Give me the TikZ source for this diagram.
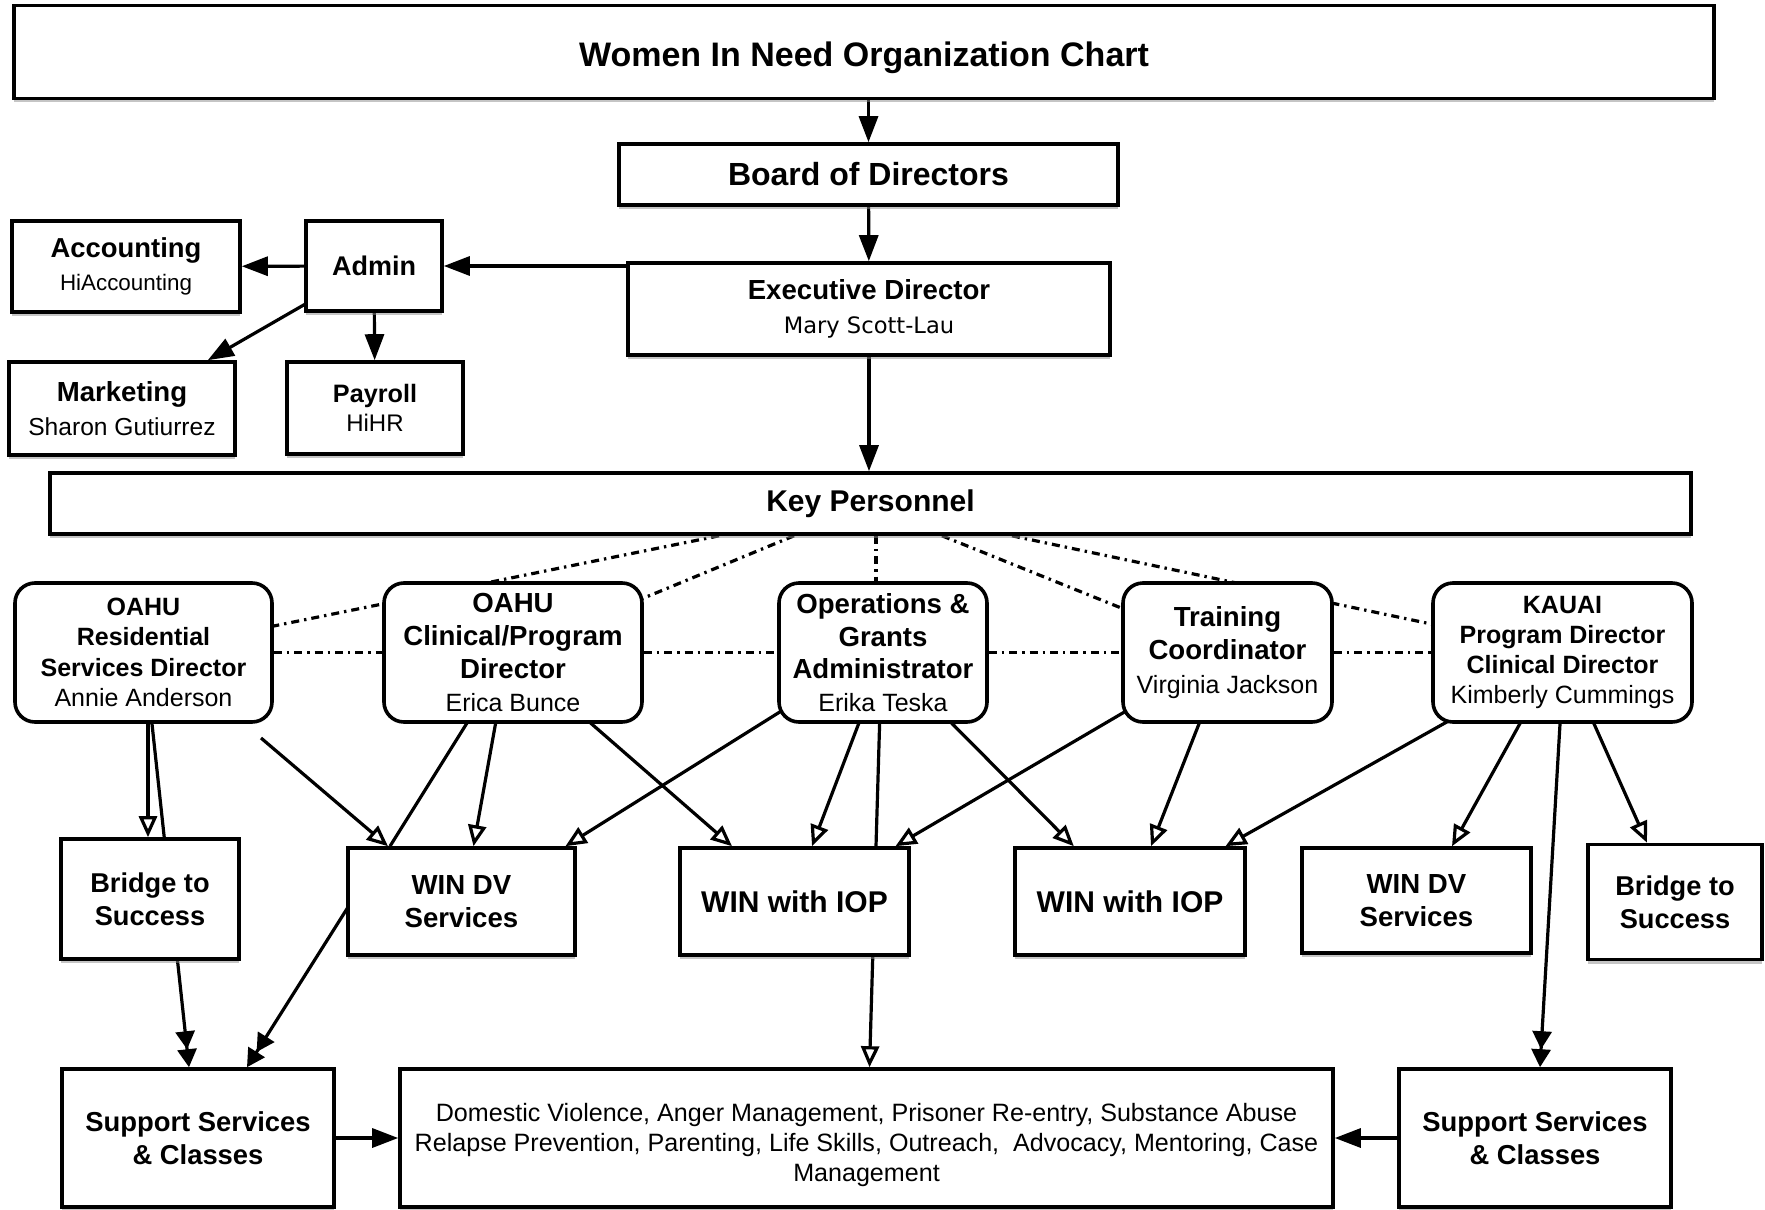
\documentclass[tikz,border=0pt]{standalone}
\usepackage{fontspec}
\setmainfont{Liberation Sans}
\newfontfamily\dejavu{DejaVu Sans}
\usetikzlibrary{arrows.meta,calc,shadows}
\pgfdeclarelayer{back}
\pgfsetlayers{back,main}

\begin{document}
\begin{tikzpicture}[x=0.5pt,y=-0.5pt]
	\tikzset{box/.style={draw,line width=1.8pt,fill=white,inner sep=0pt,align=center,
			drop shadow={shadow xshift=0pt,shadow yshift=-2pt,fill=black!45}}, %boxes
		rbox/.style={draw,line width=1.8pt,fill=white,inner sep=0pt,align=center,rounded corners=10pt},
		conn/.style={line width=1.6pt,shorten <=-3pt},
		arr/.style={conn,-{Triangle[length=13pt,width=9.5pt]}},
		oarr/.style={conn,-{Triangle[open,length=10.5pt,width=9pt]}},
		darr/.style={conn,-{Triangle[length=9pt,width=9.5pt]Triangle[length=9pt,width=9.5pt]}},
		dotline/.style={line width=1.6pt,dash pattern=on 4pt off 2.5pt on 1.2pt off 2.5pt,shorten >=-4pt}}
	\useasboundingbox (0,0) rectangle (1765,1209);
	% top of the chart
	\node[box,minimum width=850pt,minimum height=46.5pt,font=\fontsize{17}{20}\selectfont\bfseries] (title) at (864,52) {\rule{0pt}{18pt}Women In Need Organization Chart};
	\node[box,minimum width=249.5pt,minimum height=30.5pt,font=\fontsize{16}{19}\selectfont\bfseries] (board) at (868.5,174.5) {Board of Directors};
	\node[box,minimum width=241pt,minimum height=46pt,font=\fontsize{13.8}{17}\selectfont\bfseries] (exec) at (869,309) {Executive Director\\\dejavu\mdseries\fontsize{11.3}{17}\selectfont Mary Scott-Lau};
	\node[box,minimum width=68pt,minimum height=45pt,font=\fontsize{13.5}{16}\selectfont\bfseries] (admin) at (374,266) {Admin};
	\node[box,minimum width=114pt,minimum height=45.5pt,font=\fontsize{13.7}{16.3}\selectfont\bfseries] (acct) at (126,266.5) {Accounting\\\mdseries\fontsize{11.2}{16.3}\selectfont HiAccounting};
	\node[box,minimum width=113pt,minimum height=46.5pt,font=\fontsize{13.8}{16.9}\selectfont\bfseries] (mkt) at (122,408.5) {Marketing\\\mdseries\fontsize{12.3}{16.9}\selectfont Sharon Gutiurrez};
	\node[box,minimum width=88pt,minimum height=46pt,font=\fontsize{12.6}{14.6}\selectfont\bfseries] (payroll) at (375,408) {Payroll\\\mdseries\fontsize{12}{14.6}\selectfont HiHR};
	\node[box,minimum width=820.5pt,minimum height=30.5pt,font=\fontsize{15}{18}\selectfont\bfseries] (keyp) at (870.5,503.5) {Key Personnel};
	% key personnel
	\node[rbox,minimum width=128.5pt,minimum height=69.5pt,font=\fontsize{12.5}{15.2}\selectfont\bfseries] (res) at (143.5,652.5) {OAHU\\Residential\\Services Director\\\mdseries Annie Anderson};
	\node[rbox,minimum width=129pt,minimum height=69.5pt,font=\fontsize{13.8}{16.5}\selectfont\bfseries] (clin) at (513,652.5) {OAHU\\Clinical/Program\\Director\\\mdseries\fontsize{12.5}{16.5}\selectfont Erica Bunce};
	\node[rbox,minimum width=104pt,minimum height=69.5pt,font=\fontsize{13.8}{16.3}\selectfont\bfseries] (ops) at (883,652.5) {Operations \&\\Grants\\Administrator\\\mdseries\fontsize{12.5}{16.3}\selectfont Erika Teska};
	\node[rbox,minimum width=104.5pt,minimum height=69.5pt,font=\fontsize{13.8}{16.9}\selectfont\bfseries] (train) at (1227.5,652.5) {Training\\Coordinator\\\mdseries\fontsize{12.5}{16.9}\selectfont Virginia Jackson};
	\node[rbox,minimum width=129.5pt,minimum height=69.5pt,font=\fontsize{12.5}{15}\selectfont\bfseries] (kauai) at (1562.5,652.5) {KAUAI\\Program Director\\Clinical Director\\\mdseries Kimberly Cummings};
	% programs
	\node[box,minimum width=89pt,minimum height=60pt,font=\fontsize{13.6}{16.3}\selectfont\bfseries] (bridgeL) at (150,899) {Bridge to\\Success};
	\node[box,minimum width=113.5pt,minimum height=53.5pt,font=\fontsize{13.8}{16.3}\selectfont\bfseries] (windvL) at (461.5,901.5) {WIN DV\\Services};
	\node[box,minimum width=114.5pt,minimum height=53.5pt,font=\fontsize{15}{18}\selectfont\bfseries] (iop1) at (794.5,901.5) {WIN with IOP};
	\node[box,minimum width=115pt,minimum height=53.5pt,font=\fontsize{15}{18}\selectfont\bfseries] (iop2) at (1130,901.5) {WIN with IOP};
	\node[box,minimum width=114.5pt,minimum height=52.5pt,font=\fontsize{13.8}{16.3}\selectfont\bfseries] (windvR) at (1416.5,900.5) {WIN DV\\Services};
	\node[box,minimum width=87pt,minimum height=57.5pt,font=\fontsize{13.6}{16.3}\selectfont\bfseries] (bridgeR) at (1675,902) {Bridge to\\Success};
	% bottom row
	\node[box,minimum width=136pt,minimum height=69pt,font=\fontsize{13.7}{16.3}\selectfont\bfseries] (suppL) at (198,1138) {Support Services\\\& Classes};
	\node[box,minimum width=466.5pt,minimum height=69pt,font=\fontsize{12.55}{15.2}\selectfont] (dom) at (866.5,1138) {\rule{0pt}{16pt}Domestic Violence, Anger Management, Prisoner Re-entry, Substance Abuse\\Relapse Prevention, Parenting, Life Skills, Outreach,\ \ Advocacy, Mentoring, Case\\Management};
	\node[box,minimum width=136pt,minimum height=69pt,font=\fontsize{13.7}{16.3}\selectfont\bfseries] (suppR) at (1535,1138) {Support Services\\\& Classes};
	\coordinate (resout) at (261,738); %loose start below the residential box
	\begin{pgfonlayer}{back}
		\draw[arr] (title.south -| board.north) -- (board.north);
		\draw[arr] (board) -- (exec);
		\draw[arr] (exec.west |- admin) -- (admin);
		\draw[arr] (admin) -- (acct);
		\draw[arr] (admin.209) -- ($(mkt.north east)+(-29,0)$);
		\draw[arr] (admin) -- (payroll);
		\draw[arr] (exec.south) -- (exec.south |- keyp.north);
		\draw[dotline] ($(keyp.south)+(-151.5,0)$) -- ($(res.east)+(0,-26.5)$); %dotted links
		\draw[dotline] ($(keyp.south)+(-76.5,0)$) -- ($(clin.east)+(0,-54.5)$);
		\draw[dotline] ($(keyp.south)+(5.5,0)$) -- ($(ops.north)+(-7,0)$);
		\draw[dotline] ($(keyp.south)+(71.5,0)$) -- ($(train.west)+(0,-44.5)$);
		\draw[dotline] ($(keyp.south)+(141.5,0)$) -- ($(kauai.west)+(0,-28.5)$);
		\draw[dotline] (res) -- (clin) (clin) -- (ops) (ops) -- (train) (train) -- (kauai);
		\draw[oarr] ($(res.south)+(4.5,0)$) -- ($(bridgeL.north)+(-2,0)$); %program links
		\draw[darr] ($(res.south)+(8.5,0)$) -- ($(suppL.north)+(-9,0)$);
		\draw[oarr,shorten <=0pt] (resout) -- ($(windvL.north)+(-73.5,0)$);
		\draw[conn] ($(clin.south)+(-46.5,0)$) -- ($(windvL.north)+(-71.5,0)$);
		\draw[oarr] ($(clin.south)+(-17.5,0)$) -- ($(windvL.north)+(12,0)$);
		\draw[oarr] ($(clin.south)+(78.5,0)$) -- ($(iop1.north)+(-62.5,0)$);
		\draw[oarr] (ops.210) -- ($(windvL.north)+(104,0)$);
		\draw[oarr] ($(ops.south)+(-24.4,0)$) -- ($(iop1.north)+(17.5,0)$);
		\draw[oarr] ($(ops.south)+(-3.4,0)$) -- ($(dom.north)+(3,0)$);
		\draw[oarr] ($(ops.south)+(69.3,0)$) -- ($(iop2.north)+(-56.2,0)$);
		\draw[oarr] (train.210) -- ($(iop1.north)+(101,0)$);
		\draw[oarr] ($(train.south)+(-28.5,0)$) -- ($(iop2.north)+(21,0)$);
		\draw[oarr] ($(kauai.south)+(-119,0)$) -- ($(iop2.north)+(95.5,0)$);
		\draw[oarr] ($(kauai.south)+(-42.7,0)$) -- ($(windvR.north)+(35.5,0)$);
		\draw[darr] ($(kauai.south)+(-2.5,0)$) -- ($(suppR.north)+(5,0)$);
		\draw[oarr] ($(kauai.south)+(31.5,0)$) -- ($(bridgeR.north)+(-28,0)$);
		\draw[darr] ($(windvL.west)+(0,8.5)$) -- ($(suppL.north)+(49,0)$);
		\draw[arr] (suppL) -- (dom); %to the class list
		\draw[arr] (suppR) -- (dom);
	\end{pgfonlayer}
\end{tikzpicture}
\end{document}
